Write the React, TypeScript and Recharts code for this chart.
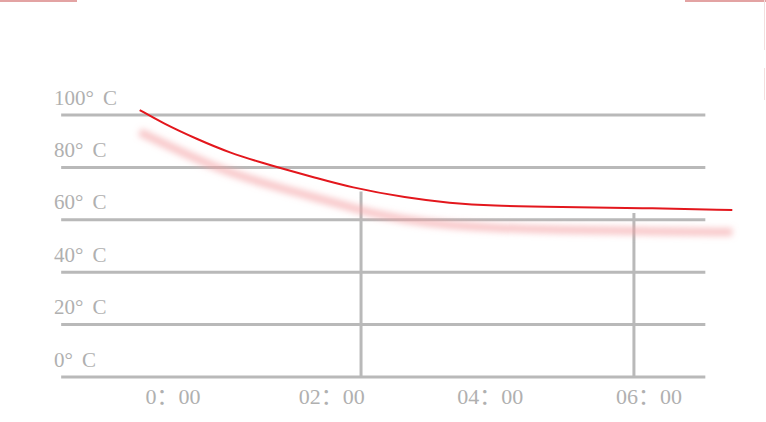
import React from "react";
import { ComposedChart, Line, XAxis, YAxis, ReferenceLine } from "recharts";

// Time axis in hours (0:00 .. 06:00)
const xTicks = [0, 2, 4, 6];
const xTickLabels = ["0：00", "02：00", "04：00", "06：00"];
const yTicks = [0, 20, 40, 60, 80, 100];
const yTickLabels = ["0°", "20°", "40°", "60°", "80°", "100°"];
const yUnit = "C";

// Temperature curve (hours, °C)
const tempTimes = [-0.42, -0.13, 0.3, 0.72, 1.13, 1.39, 1.77, 2.23, 2.95, 3.49, 4.0, 4.88, 5.89, 7.05];
const tempValues = [101.9, 96.9, 90.8, 85.5, 81.7, 79.4, 76.3, 72.4, 68.3, 66.4, 65.3, 64.9, 64.5, 63.7];

// Soft shadow curve under it
const shadowTimes = [-0.42, -0.13, 0.5, 1.13, 1.77, 2.23, 2.52, 3.15, 4.0, 4.88, 5.89, 7.05];
const shadowValues = [93.5, 89.3, 80.2, 74.0, 68.7, 64.9, 62.3, 58.8, 56.9, 56.1, 55.7, 55.3];

// Vertical markers: time and temperature where they stop
const markerTimes = [2.37, 5.81];
const markerTops = [70.8, 62.6];

// Extent of the horizontal grid lines (hours)
const gridStart = -1.41;
const gridEnd = 6.71;

const tempData = tempTimes.map((t, i) => ({ t, v: tempValues[i] }));
const shadowData = shadowTimes.map((t, i) => ({ t, v: shadowValues[i] }));

const FONT = "'Liberation Serif', 'Noto Sans CJK SC', serif";
const TEXT = "#b0b0b0";
const GRID = "#b9b9b9";

const YTick = (props: any) => {
  const { y, payload } = props;
  const idx = yTicks.indexOf(payload.value);
  return (
    <text x={54} y={y - 10.5} fill={TEXT} fontSize={21} fontFamily={FONT} textAnchor="start">
      <tspan>{yTickLabels[idx]}</tspan>
      <tspan dx={9}>{yUnit}</tspan>
    </text>
  );
};

const XTick = (props: any) => {
  const { x, y, payload } = props;
  const idx = xTicks.indexOf(payload.value);
  return (
    <text x={x} y={y + 19} fill={TEXT} fontSize={22} fontFamily={FONT} textAnchor="middle">
      {xTickLabels[idx]}
    </text>
  );
};

export default function App() {
  return (
    <div style={{ position: "absolute", left: 0, top: 0, width: 766, height: 422, background: "#fff" }}>
      <svg width={0} height={0} style={{ position: "absolute" }}>
        <defs>
          <filter id="softBlur" x="-10%" y="-50%" width="120%" height="200%">
            <feGaussianBlur stdDeviation="3" />
          </filter>
        </defs>
      </svg>
      <div style={{ position: "absolute", left: 0, top: 0, width: 77, height: 2, background: "#e3a3a3" }} />
      <div style={{ position: "absolute", left: 685, top: 0, width: 81, height: 2, background: "#e3a3a3" }} />
      <div style={{ position: "absolute", left: 764, top: 0, width: 1, height: 50, background: "#f3dede" }} />
      <div style={{ position: "absolute", left: 764, top: 68, width: 1, height: 32, background: "#f3dede" }} />
      <ComposedChart
        width={766}
        height={422}
        margin={{ top: 88.8, right: 26, bottom: 0, left: 0 }}
      >
        <XAxis
          type="number"
          dataKey="t"
          domain={[-1.412, 7.147]}
          ticks={xTicks}
          allowDataOverflow
          axisLine={false}
          tickLine={false}
          height={45}
          tick={<XTick />}
        />
        <YAxis
          type="number"
          domain={[0, 110]}
          ticks={yTicks}
          allowDataOverflow
          axisLine={false}
          tickLine={false}
          width={61}
          tick={<YTick />}
        />
        {yTicks.map((v) => (
          <ReferenceLine
            key={"h" + v}
            segment={[{ x: gridStart, y: v }, { x: gridEnd, y: v }]}
            stroke={GRID}
            strokeWidth={3}
            ifOverflow="visible"
          />
        ))}
        {markerTimes.map((t, i) => (
          <ReferenceLine
            key={"m" + i}
            segment={[{ x: t, y: 0 }, { x: t, y: markerTops[i] }]}
            stroke={GRID}
            strokeWidth={3}
            ifOverflow="visible"
          />
        ))}
        <Line
          data={shadowData}
          dataKey="v"
          type="basis"
          stroke="#f4a0a4"
          strokeWidth={8}
          strokeOpacity={0.6}
          filter="url(#softBlur)"
          dot={false}
          activeDot={false}
          isAnimationActive={false}
        />
        <Line
          data={tempData}
          dataKey="v"
          type="basis"
          stroke="#e3171d"
          strokeWidth={2}
          dot={false}
          activeDot={false}
          isAnimationActive={false}
        />
      </ComposedChart>
    </div>
  );
}
